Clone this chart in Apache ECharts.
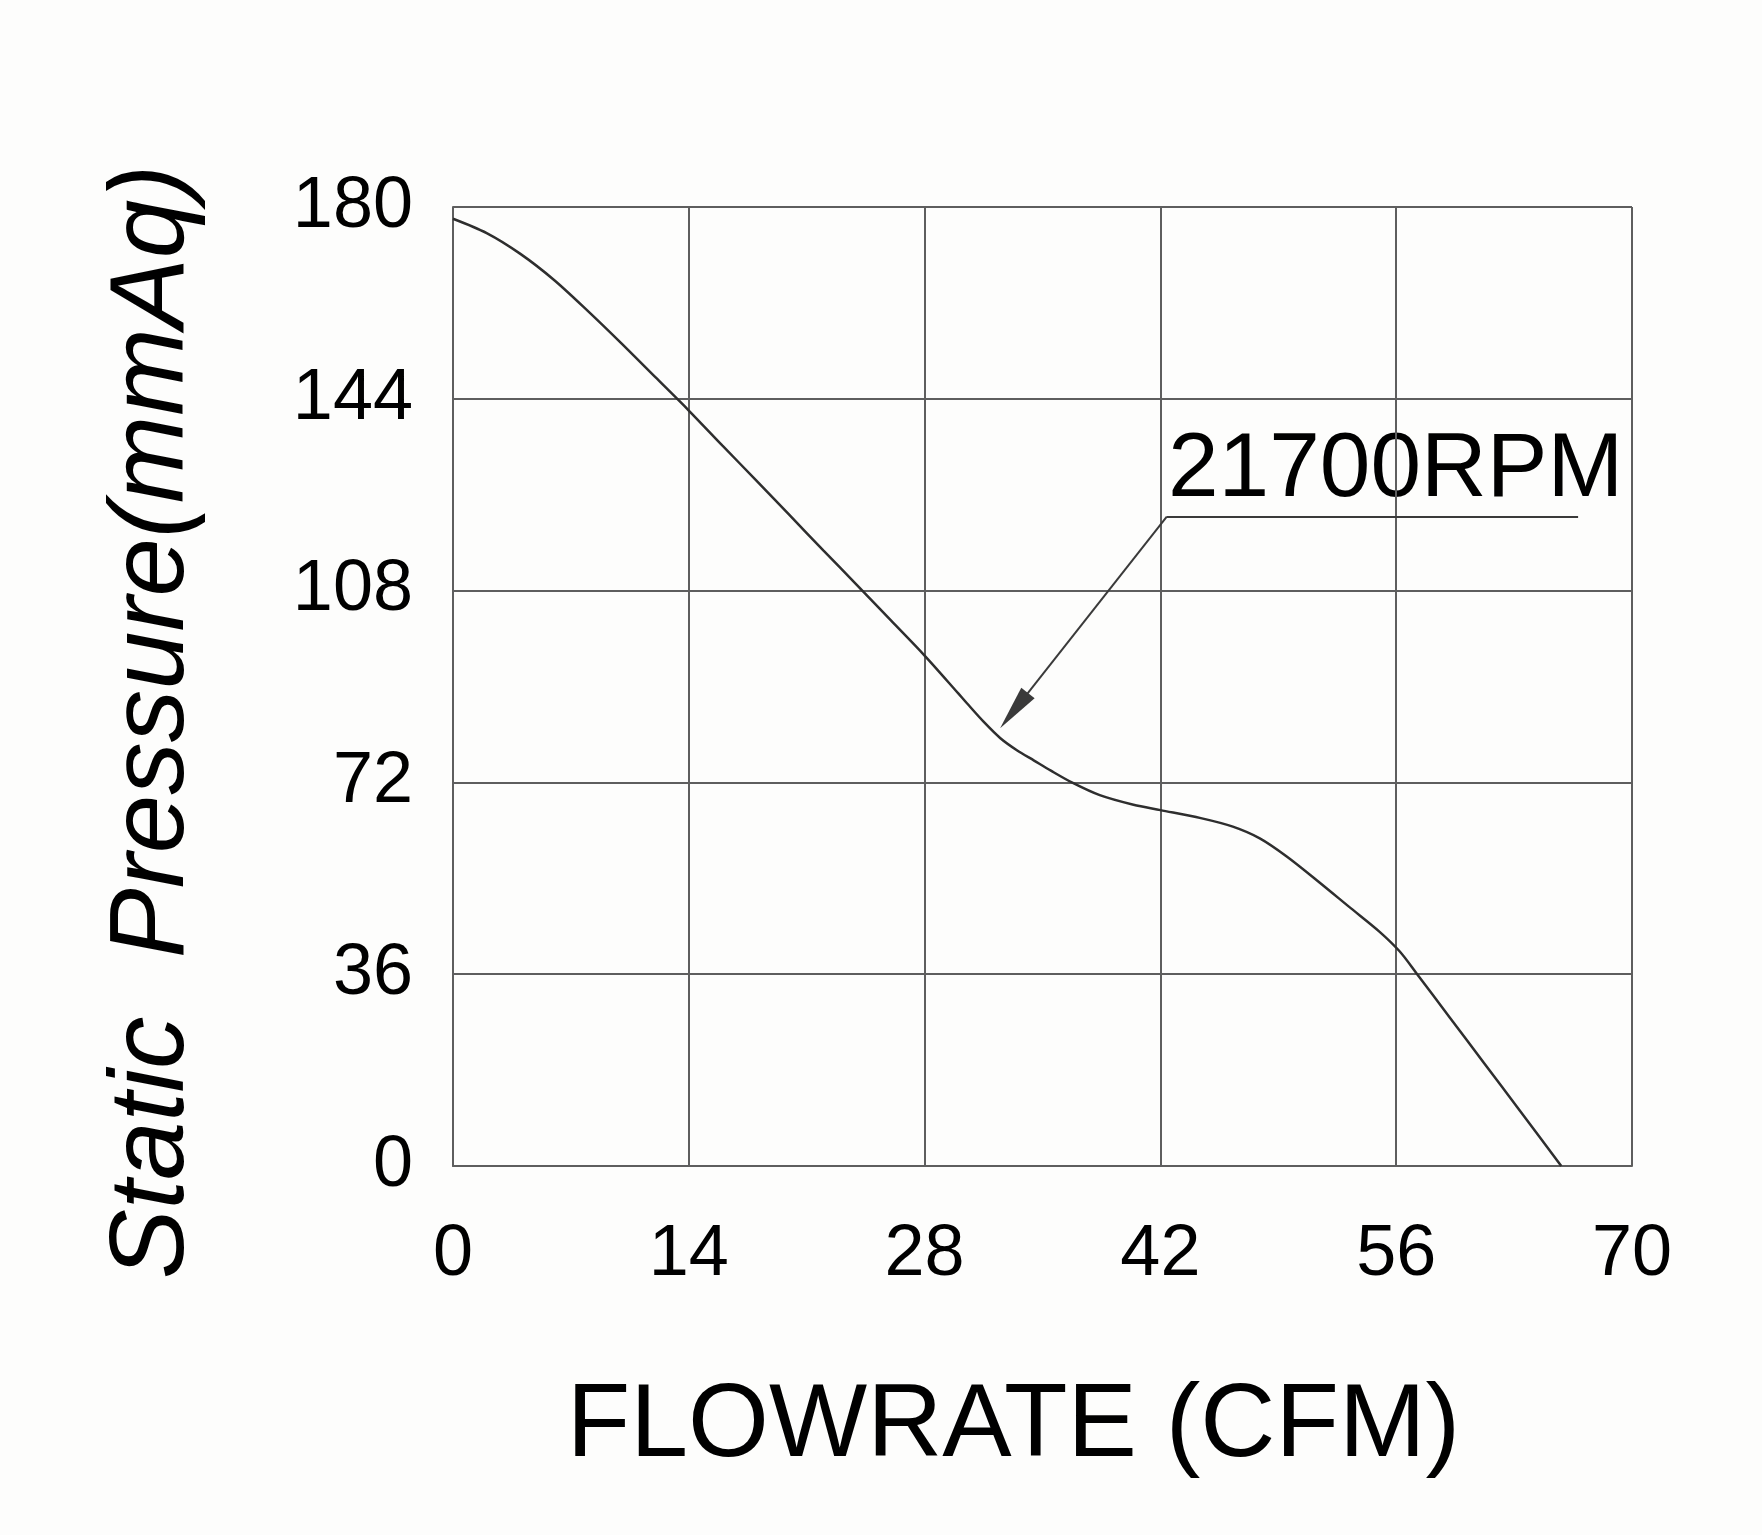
<!DOCTYPE html>
<html>
<head>
<meta charset="utf-8">
<script src="https://cdn.jsdelivr.net/npm/echarts@6/dist/echarts.min.js"></script>
<style>
html,body{margin:0;padding:0;background:#fdfdfc;}
#chart{width:1762px;height:1535px;}
</style>
</head>
<body>
<div id="chart"></div>
<script>
// ---- data ----
const flowCFM = [0, 2, 4, 6, 8, 10, 12, 14, 16, 18, 20, 22, 24, 26, 28, 30, 30.5, 31.5, 32.5, 33.5, 34.5, 35.5, 36.8, 38.4, 40.4, 42.0, 44.4, 46.3, 47.9, 49.5, 51.3, 53.3, 55.0, 56.2, 57.2, 59.2, 61.2, 63.2, 65.8];
const pressureMmAq = [177.8, 175.1, 171.2, 166.3, 160.5, 154.4, 148.1, 141.8, 135.2, 128.7, 122.1, 115.5, 109.0, 102.4, 95.8, 88.7, 86.9, 83.4, 80.3, 78.0, 76.1, 74.2, 71.9, 69.6, 67.8, 66.8, 65.3, 63.7, 61.5, 58.1, 53.6, 48.4, 44.0, 40.3, 36.2, 27.8, 19.4, 11.0, 0];
const xTicks = [0, 14, 28, 42, 56, 70];
const yTicks = [0, 36, 72, 108, 144, 180];
const xTitle = 'FLOWRATE (CFM)';
const yTitle = 'Static  Pressure(mmAq)';
const curveLabel = '21700RPM';
const leaderEnd = [66.8, 121.9];
const leaderCorner = [42.38, 121.9];
const arrowHead = [33.31, 85.47];

const seriesData = flowCFM.map((x, i) => [x, pressureMmAq[i]]);
const gridColor = '#5e5e5e';
const font = '"Liberation Sans", Arial, sans-serif';

const chart = echarts.init(document.getElementById('chart'), null, {renderer: 'canvas'});
chart.setOption({
  backgroundColor: '#fdfdfc',
  animation: false,
  grid: {left: 453, top: 207, width: 1179, height: 959, containLabel: false},
  xAxis: {
    type: 'value', min: xTicks[0], max: xTicks[xTicks.length - 1], interval: xTicks[1] - xTicks[0],
    name: xTitle, nameLocation: 'middle', nameGap: 209,
    nameTextStyle: {fontFamily: font, fontSize: 104, color: '#000', padding: [0, 58, 0, 0]},
    axisLine: {show: true, lineStyle: {color: gridColor, width: 2}},
    axisTick: {show: false},
    axisLabel: {fontFamily: font, fontSize: 72, color: '#000', margin: 53},
    splitLine: {show: true, lineStyle: {color: gridColor, width: 2}}
  },
  yAxis: {
    type: 'value', min: yTicks[0], max: yTicks[yTicks.length - 1], interval: yTicks[1] - yTicks[0],
    name: yTitle, nameLocation: 'middle', nameGap: 247,
    nameTextStyle: {fontFamily: font, fontSize: 105, fontStyle: 'italic', color: '#000', padding: [0, 71, 0, 0]},
    axisLine: {show: true, lineStyle: {color: gridColor, width: 2}},
    axisTick: {show: false},
    axisLabel: {fontFamily: font, fontSize: 72, color: '#000', margin: 40},
    splitLine: {show: true, lineStyle: {color: gridColor, width: 2}}
  },
  series: [{
    type: 'line',
    data: seriesData,
    smooth: 0.3,
    symbol: 'none',
    lineStyle: {color: '#2e2e2e', width: 2.5},
    silent: true,
    markLine: {
      silent: true,
      animation: false,
      label: {show: false},
      lineStyle: {type: 'solid', color: '#3a3a3a', width: 2},
      itemStyle: {color: '#000'},
      emphasis: {disabled: true},
      data: [
        [{coord: leaderEnd, symbol: 'none'}, {coord: leaderCorner, symbol: 'none'}],
        [{coord: leaderCorner, symbol: 'none'}, {coord: arrowHead, symbol: 'triangle', symbolSize: [17, 45]}]
      ]
    }
  }],
  graphic: [{
    type: 'text', x: 1168, y: 471,
    style: {text: curveLabel, fontFamily: font, fontSize: 91, fill: '#000', textAlign: 'left', textVerticalAlign: 'middle'}
  }]
});
</script>
</body>
</html>
